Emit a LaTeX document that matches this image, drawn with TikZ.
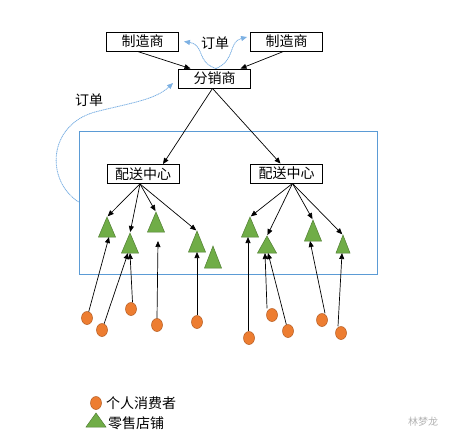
\documentclass[tikz,border=0pt]{standalone}
\usepackage{fontspec}
\newfontfamily\cjk{Noto Sans CJK SC}
\usetikzlibrary{arrows.meta,shapes.geometric}
\definecolor{lblue}{HTML}{5B9BD5}
\definecolor{dotblue}{HTML}{7DB1E3}
\definecolor{org}{HTML}{ED7D31}
\definecolor{orgd}{HTML}{B45A1E}
\definecolor{grn}{HTML}{70AD47}
\definecolor{grnd}{HTML}{507E32}
\newcommand{\shoptri}[5]{% name, apex x, apex y, width, height
  \coordinate (#1a) at (#2,#3);
  \coordinate (#1b) at (#2,#3+#5);
  \filldraw[tri] (#2,#3) -- (#2-#4/2,#3+#5) -- (#2+#4/2,#3+#5) -- cycle;}
\begin{document}
\begin{tikzpicture}[x=1pt,y=-1pt,
  box/.style={draw=black, line width=0.9pt, minimum width=72pt, minimum height=19pt, inner sep=0pt, font=\cjk\fontsize{14}{16}\selectfont},
  arr/.style={-{Triangle[length=6pt,width=5pt]}, line width=0.7pt, black},
  barr/.style={-{Triangle[length=6pt,width=5pt]}, dotblue, line width=0.8pt, dash pattern=on 1.2pt off 0.6pt},
  cons/.style={ellipse, fill=org, draw=orgd, line width=0.5pt, minimum width=11pt, minimum height=13pt, inner sep=0pt},
  tri/.style={fill=grn, draw=grnd, line width=0.5pt},
  lbl/.style={font=\cjk\fontsize{14}{16}\selectfont, inner sep=0pt},
  regionbox/.style={draw=lblue, line width=0.8pt, minimum width=298pt, minimum height=143pt, inner sep=0pt}
]
\useasboundingbox (0,0) rectangle (457,440);
% region
\node[regionbox] (Z) at (228,202.5) {};
% boxes
\node[box] (M1) at (142.5,41.5) {制造商};
\node[box] (M2) at (286.5,41.5) {制造商};
\node[box] (D) at (214.5,78.5) {分销商};
\node[box] (L) at (143,174) {配送中心};
\node[box] (R) at (286.5,173.5) {配送中心};
\node[lbl] (o1) at (215,43) {订单};
\node[lbl] (o2) at (89,100) {订单};
% manufacturer -> distributor
\draw[arr] ([xshift=-5pt]M1.south) -- ([xshift=-24pt]D.north);
\draw[arr] ([xshift=-3pt]M2.south) -- ([xshift=26pt]D.north);
% orders (blue)
\draw[barr] ([xshift=1.5pt]D.north) .. controls (196,62) and (205,45) .. ([xshift=5pt]M1.east);
\draw[barr] ([xshift=1.5pt]D.north) .. controls (236,60) and (228,42) .. ([xshift=-3pt,yshift=4.5pt]M2.west);
\draw[barr] ([yshift=0.5pt]Z.west) .. controls (45,180) and (48,125) .. (95,112) .. controls (130,103) and (155,100) .. ([xshift=-5pt,yshift=-4.5pt]D.west);
% distributor -> centres
\draw[arr] ([xshift=-2pt]D.south) -- ([xshift=20pt]L.north);
\draw[arr] ([xshift=-2pt]D.south) -- ([xshift=-6pt]R.north);
% triangles
\shoptri{T1}{107}{217}{17}{20}
\shoptri{T2}{130}{233}{17}{20}
\shoptri{T3}{156}{212}{17}{20}
\shoptri{T4}{197}{231}{17}{21}
\shoptri{T5}{213}{246}{17}{22}
\shoptri{T6}{250}{217}{17}{20}
\shoptri{T7}{267}{236}{19}{17}
\shoptri{T8}{313}{220}{17}{21}
\shoptri{T9}{343}{235}{14}{18}
% centre -> shops
\foreach \t in {T1,T2,T3,T4}
  \draw[arr, shorten >=1pt] ([xshift=-3pt]L.south) -- (\t a);
\foreach \t in {T6,T7,T8,T9}
  \draw[arr, shorten >=1pt] ([xshift=6pt]R.south) -- (\t a);
% consumers
\node[cons] (C1) at (87,318) {};
\node[cons] (C2) at (102,330) {};
\node[cons] (C3) at (131,309) {};
\node[cons] (C4) at (157,325) {};
\node[cons] (C5) at (197,322) {};
\node[cons] (C6) at (249,338) {};
\node[cons] (C7) at (272,315) {};
\node[cons] (C8) at (288,331) {};
\node[cons] (C9) at (322,320) {};
\node[cons] (C10) at (341,333) {};
% consumer -> shop
\draw[arr] (C1) -- ([xshift=2pt]T1b);
\draw[arr] (C2) -- ([xshift=-2pt]T2b);
\draw[arr] ([xshift=1.5pt]C3.north) -- ([xshift=0pt]T2b);
\draw[arr] (C4.north) -- ([xshift=2pt,yshift=-9pt]T3b);
\draw[arr] (C5.north) -- (T4b);
\draw[arr] ([xshift=-1pt]C6.north) -- ([xshift=-2pt]T6b);
\draw[arr] ([xshift=-5pt]C7.north) -- ([xshift=-2pt]T7b);
\draw[arr] (C8) -- ([xshift=1pt]T7b);
\draw[arr] ([xshift=3pt]C9.north) -- ([xshift=-3pt]T8b);
\draw[arr] ([xshift=-3pt]C10.north) -- ([xshift=-1pt]T9b);
% legend
\node[cons] (lc) at (96,403) {};
\node[lbl, anchor=west] (lct) at (106,403) {个人消费者};
\shoptri{LT}{96}{413}{20}{14}
\node[lbl, anchor=west] (ltt) at (108,423) {零售店铺};
% watermark
\node[font=\cjk\fontsize{10}{12}\selectfont, text=gray!60, inner sep=0pt] (wm) at (423,422) {林梦龙};
\end{tikzpicture}
\end{document}
